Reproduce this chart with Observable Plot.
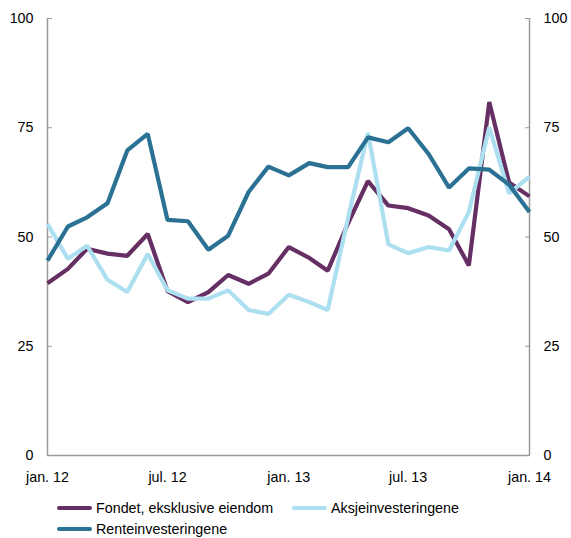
<!DOCTYPE html>
<html>
<head>
<meta charset="utf-8">
<script src="https://cdn.jsdelivr.net/npm/d3@7"></script>
<script src="https://cdn.jsdelivr.net/npm/@observablehq/plot@0.6"></script>
<style>
  body { margin: 0; background: #fff; font-family: "Liberation Sans", Arial, Helvetica, sans-serif; }
  #legend { position: relative; width: 571px; height: 51px; font-size: 14.3px; color: #000; }
  .item { position: absolute; display: flex; align-items: center; height: 18px; line-height: 16px; }
  .sw { width: 35px; height: 4px; margin-right: 4px; border-radius: 2px; }
</style>
</head>
<body>
<div id="chart"></div>
<div id="legend"></div>
<script>
const months = [
  "2012-01","2012-02","2012-03","2012-04","2012-05","2012-06","2012-07","2012-08","2012-09","2012-10","2012-11","2012-12",
  "2013-01","2013-02","2013-03","2013-04","2013-05","2013-06","2013-07","2013-08","2013-09","2013-10","2013-11","2013-12",
  "2014-01"
];
const fondet = [39.4,42.7,47.3,46.2,45.7,50.7,37.6,35.1,37.4,41.3,39.3,41.6,47.7,45.2,42.3,53.2,62.8,57.2,56.6,54.9,51.8,43.5,80.9,62.5,59.3];
const aksje  = [53.0,45.0,48.0,40.2,37.4,46.1,37.8,35.9,35.9,37.8,33.3,32.4,36.8,35.1,33.3,54.5,73.8,48.3,46.3,47.7,46.9,55.7,75.1,60.0,63.8];
const rente  = [44.6,52.4,54.5,57.7,69.8,73.6,53.9,53.6,47.1,50.3,60.3,66.1,64.1,66.9,66.0,66.0,72.8,71.7,74.9,69.0,61.3,65.7,65.4,62.0,55.7];
const seriesNames = ["Fondet, eksklusive eiendom", "Aksjeinvesteringene", "Renteinvesteringene"];
const seriesColors = ["#652f63", "#acdff0", "#2a7194"];
const xTicks = ["2012-01","2012-07","2013-01","2013-07","2014-01"];
const xTickLabels = ["jan. 12","jul. 12","jan. 13","jul. 13","jan. 14"];
const yTicks = [0, 25, 50, 75, 100];

const parse = d3.utcParse("%Y-%m");
const rows = [];
[fondet, aksje, rente].forEach((vals, s) => {
  vals.forEach((v, i) => rows.push({date: parse(months[i]), value: v, series: seriesNames[s]}));
});
const tickDates = xTicks.map(parse);
const labelOf = new Map(tickDates.map((d, i) => [+d, xTickLabels[i]]));
const axisColor = "#9a9a9a";

const chart = Plot.plot({
  width: 571,
  height: 487,
  marginLeft: 47,
  marginRight: 42,
  marginTop: 18,
  marginBottom: 32,
  style: {fontFamily: "'Liberation Sans', Arial, Helvetica, sans-serif", fontSize: "14.3px", color: "#000", background: "#fff"},
  x: {type: "utc", domain: [parse(months[0]), parse(months[months.length - 1])]},
  y: {domain: [0, 100]},
  color: {domain: seriesNames, range: seriesColors},
  marks: [
    Plot.ruleX([parse(months[0]), parse(months[months.length - 1])], {stroke: axisColor, strokeWidth: 1.5}),
    Plot.ruleY([0], {stroke: axisColor, strokeWidth: 1.5}),
    Plot.axisY({anchor: "left", ticks: yTicks, tickSize: -5, stroke: axisColor, tickPadding: 19, label: null, fill: "#000", fontSize: 14.3}),
    Plot.axisY({anchor: "right", ticks: yTicks, tickSize: -5, stroke: axisColor, tickPadding: 19, label: null, fill: "#000", fontSize: 14.3}),
    Plot.axisX({ticks: tickDates, tickFormat: d => labelOf.get(+d), tickSize: 0, tickPadding: 16, label: null, fill: "#000", fontSize: 14.3}),
    Plot.line(rows, {x: "date", y: "value", z: "series", stroke: "series", strokeWidth: 4.2, strokeLinejoin: "miter", strokeLinecap: "butt"})
  ]
});
document.getElementById("chart").appendChild(chart);

const legend = document.getElementById("legend");
const pos = [[57, 21], [292, 21], [57, 42]];
seriesNames.forEach((name, i) => {
  const it = document.createElement("div");
  it.className = "item";
  it.style.left = pos[i][0] + "px";
  it.style.top = (pos[i][1] - 9) + "px";
  const sw = document.createElement("div");
  sw.className = "sw";
  sw.style.background = seriesColors[i];
  const tx = document.createElement("span");
  tx.textContent = name;
  it.appendChild(sw);
  it.appendChild(tx);
  legend.appendChild(it);
});
</script>
</body>
</html>
